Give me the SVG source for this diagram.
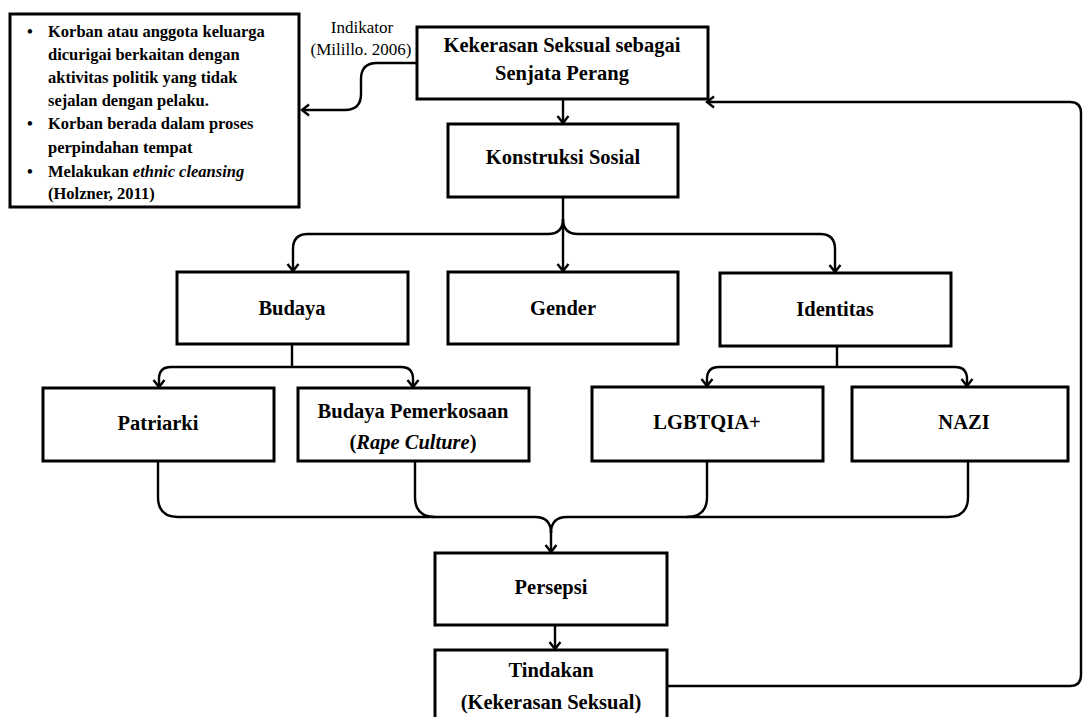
<svg xmlns="http://www.w3.org/2000/svg" width="1083" height="717" viewBox="0 0 1083 717">
<style>
.box{fill:#fff;stroke:#000;stroke-width:3}
.t{font-family:"Liberation Serif","Times New Roman",serif;font-weight:bold;font-size:20.5px;fill:#000;text-anchor:middle}
.s{font-family:"Liberation Serif","Times New Roman",serif;font-weight:bold;font-size:16.5px;fill:#000}
.lbl{font-family:"Liberation Serif","Times New Roman",serif;font-size:17px;fill:#000;text-anchor:middle}
.c{fill:none;stroke:#000;stroke-width:2.4}
</style>
<defs>
<marker id="arr" markerWidth="14" markerHeight="14" refX="11" refY="7" orient="auto" markerUnits="userSpaceOnUse" viewBox="0 0 14 14">
<path d="M4,1.5 L11,7 L4,12.5" fill="none" stroke="#000" stroke-width="2.4"/>
</marker>
</defs>
<rect width="1083" height="717" fill="#fff"/>
<g id="connectors">
<path class="c" d="M417,63 H377 Q361,63 361,79 V94 Q361,110 345,110 H302" marker-end="url(#arr)"/>
<path class="c" d="M563,99 V123" marker-end="url(#arr)"/>
<path class="c" d="M563,197 V271" marker-end="url(#arr)"/>
<path class="c" d="M563,219 Q563,234 548,234 H308 Q293,234 293,249 V271" marker-end="url(#arr)"/>
<path class="c" d="M563,219 Q563,234 578,234 H820 Q835,234 835,249 V272" marker-end="url(#arr)"/>
<path class="c" d="M292,344 V367"/>
<path class="c" d="M292,367 H171 Q159,367 159,379 V387" marker-end="url(#arr)"/>
<path class="c" d="M292,367 H401 Q413,367 413,379 V387" marker-end="url(#arr)"/>
<path class="c" d="M837,346 V367"/>
<path class="c" d="M837,367 H719 Q707,367 707,379 V386" marker-end="url(#arr)"/>
<path class="c" d="M837,367 H955 Q967,367 967,379 V386" marker-end="url(#arr)"/>
<path class="c" d="M158,461 V497 Q158,517 178,517 H535 Q551,517 551,533"/>
<path class="c" d="M415,461 V497 Q415,517 435,517"/>
<path class="c" d="M707,461 V497 Q707,517 687,517"/>
<path class="c" d="M968,461 V497 Q968,517 948,517 H567 Q551,517 551,533"/>
<path class="c" d="M551,530 V552" marker-end="url(#arr)"/>
<path class="c" d="M555,625 V649" marker-end="url(#arr)"/>
<path class="c" d="M667,686 H1070 Q1081,686 1081,675 V113 Q1081,102 1070,102 H707" marker-end="url(#arr)"/>
</g>
<g id="indikator-label">
<text class="lbl" x="362" y="33">Indikator</text>
<text class="lbl" x="361" y="55">(Milillo. 2006)</text>
</g>
<g id="indikator-box">
<rect class="box" x="10" y="14" width="289" height="193"/>
<text class="s" x="27" y="37">•</text>
<text class="s" x="48" y="37">Korban atau anggota keluarga</text>
<text class="s" x="48" y="60">dicurigai berkaitan dengan</text>
<text class="s" x="48" y="83">aktivitas politik yang tidak</text>
<text class="s" x="48" y="106">sejalan dengan pelaku.</text>
<text class="s" x="27" y="129">•</text>
<text class="s" x="48" y="129">Korban berada dalam proses</text>
<text class="s" x="48" y="153">perpindahan tempat</text>
<text class="s" x="27" y="177">•</text>
<text class="s" x="48" y="177">Melakukan <tspan font-style="italic">ethnic cleansing</tspan></text>
<text class="s" x="48" y="199">(Holzner, 2011)</text>
</g>
<g id="senjata">
<rect class="box" x="417" y="27" width="291" height="72"/>
<text class="t" x="562" y="52">Kekerasan Seksual sebagai</text>
<text class="t" x="562" y="80">Senjata Perang</text>
</g>
<g id="konstruksi">
<rect class="box" x="448" y="124" width="230" height="73"/>
<text class="t" x="563" y="164">Konstruksi Sosial</text>
</g>
<g id="budaya">
<rect class="box" x="177" y="272" width="231" height="72"/>
<text class="t" x="292" y="315">Budaya</text>
</g>
<g id="gender">
<rect class="box" x="448" y="272" width="230" height="72"/>
<text class="t" x="563" y="315">Gender</text>
</g>
<g id="identitas">
<rect class="box" x="720" y="273" width="231" height="73"/>
<text class="t" x="835" y="316">Identitas</text>
</g>
<g id="patriarki">
<rect class="box" x="43" y="388" width="231" height="73"/>
<text class="t" x="158" y="430">Patriarki</text>
</g>
<g id="rape-culture">
<rect class="box" x="298" y="388" width="231" height="73"/>
<text class="t" x="413" y="418">Budaya Pemerkosaan</text>
<text class="t" x="413" y="449">(<tspan font-style="italic">Rape Culture</tspan>)</text>
</g>
<g id="lgbtqia">
<rect class="box" x="592" y="387" width="231" height="74"/>
<text class="t" x="707" y="429">LGBTQIA+</text>
</g>
<g id="nazi">
<rect class="box" x="852" y="387" width="216" height="74"/>
<text class="t" x="964" y="429">NAZI</text>
</g>
<g id="persepsi">
<rect class="box" x="435" y="553" width="232" height="72"/>
<text class="t" x="551" y="594">Persepsi</text>
</g>
<g id="tindakan">
<rect class="box" x="435" y="650" width="232" height="80"/>
<text class="t" x="551" y="677">Tindakan</text>
<text class="t" x="551" y="709">(Kekerasan Seksual)</text>
</g>
</svg>
